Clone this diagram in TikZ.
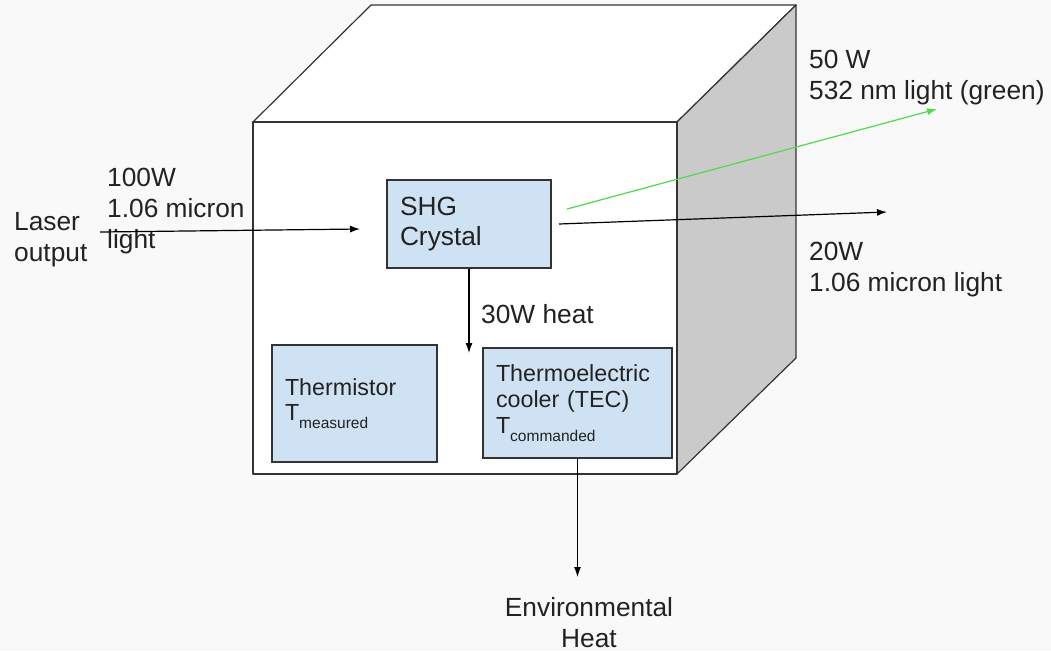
\documentclass[tikz,border=0pt]{standalone}
\usepackage{fontspec}
\setmainfont{Liberation Sans}
\usetikzlibrary{arrows.meta, positioning}
\definecolor{boxblue}{HTML}{CFE2F3}
\definecolor{edgegray}{HTML}{333333}
\definecolor{sidegray}{HTML}{CACACA}
\definecolor{beamgreen}{HTML}{4CDB4C}
\definecolor{textgray}{HTML}{222222}
\definecolor{pagegray}{HTML}{F9F9F9}
\newcommand{\subtext}[1]{\raisebox{-8pt}{\fontsize{15.5}{15.5}\selectfont #1}}
\tikzset{
	labelnode/.style={
			inner sep=0pt,
			align=left,
			text=textgray,
			font=\fontsize{26.3}{31}\selectfont
		},
	partbox/.style={
			draw=edgegray,
			line width=1.3pt,
			fill=boxblue,
			inner xsep=13pt,
			inner ysep=0pt,
			align=left,
			text=textgray
		},
	beam/.style={
			line width=1.2pt,
			-{Latex[length=10pt,width=7pt]}
		},
	faceline/.style={
			draw=edgegray,
			line width=1.2pt,
			line join=round
		}
}

\begin{document}
\begin{tikzpicture}[x=1pt, y=-1pt]
				\fill[pagegray] (0,0) rectangle (1051,651);
				\useasboundingbox (0,0) rectangle (1051,651);

				% the housing
				\filldraw[faceline, fill=white] (253,122) -- (371,5) -- (796,5) -- (677,122) -- cycle;
				\filldraw[faceline, fill=sidegray] (677,122) -- (796,5) -- (796,358) -- (677,474) -- cycle;
				\filldraw[faceline, fill=white] (253,122) rectangle (677,474);

				\node[partbox, text width=138pt, minimum height=88pt, font=\fontsize{26.3}{30}\selectfont] (shg) at (469,224) {SHG\\Crystal};
				\node[partbox, text width=139pt, minimum height=117pt, font=\fontsize{23.3}{25}\selectfont] (thermistor) at (354.5,403.5) {Thermistor\\T\subtext{measured}};
				\node[partbox, text width=163pt, minimum height=110pt, font=\fontsize{23.3}{26}\selectfont] (tec) at (577.5,403) {Thermoelectric\\cooler (TEC)\\T\subtext{commanded}};

				\node[labelnode, anchor=west] (laser) at (14,240) {Laser\\output};
				\node[labelnode, anchor=west] (inlight) at (107,211) {100W\\1.06 micron\\light};
				\node[labelnode, anchor=base west] (heat) at (481,323) {30W heat};
				\node[labelnode, anchor=west] (green) at (809,78) {50 W\\532 nm light (green)};
				\node[labelnode, anchor=west] (outlight) at (809,270) {20W\\1.06 micron light};
				\node[labelnode, anchor=north, align=center] (env) at (589,597) {Environmental\\Heat};

				\coordinate (laserin) at (100,232);
				\coordinate (laserend) at (360,229);
				\coordinate (heatend) at (469,353);
				\coordinate (envend) at (577.5,577);
				\coordinate (greenstart) at (567,209);
				\coordinate (greenend) at (937,109);
				\coordinate (outstart) at (559,224);
				\coordinate (outend) at (887,212);

				\draw[beam] (laserin) -- (laserend);
				\draw[beam] (shg.south) -- (heatend);
				\draw[beam] (tec.south) -- (envend);
				\draw[beam, beamgreen] (greenstart) -- (greenend);
				\draw[beam] (outstart) -- (outend);
			\end{tikzpicture}
\end{document}
